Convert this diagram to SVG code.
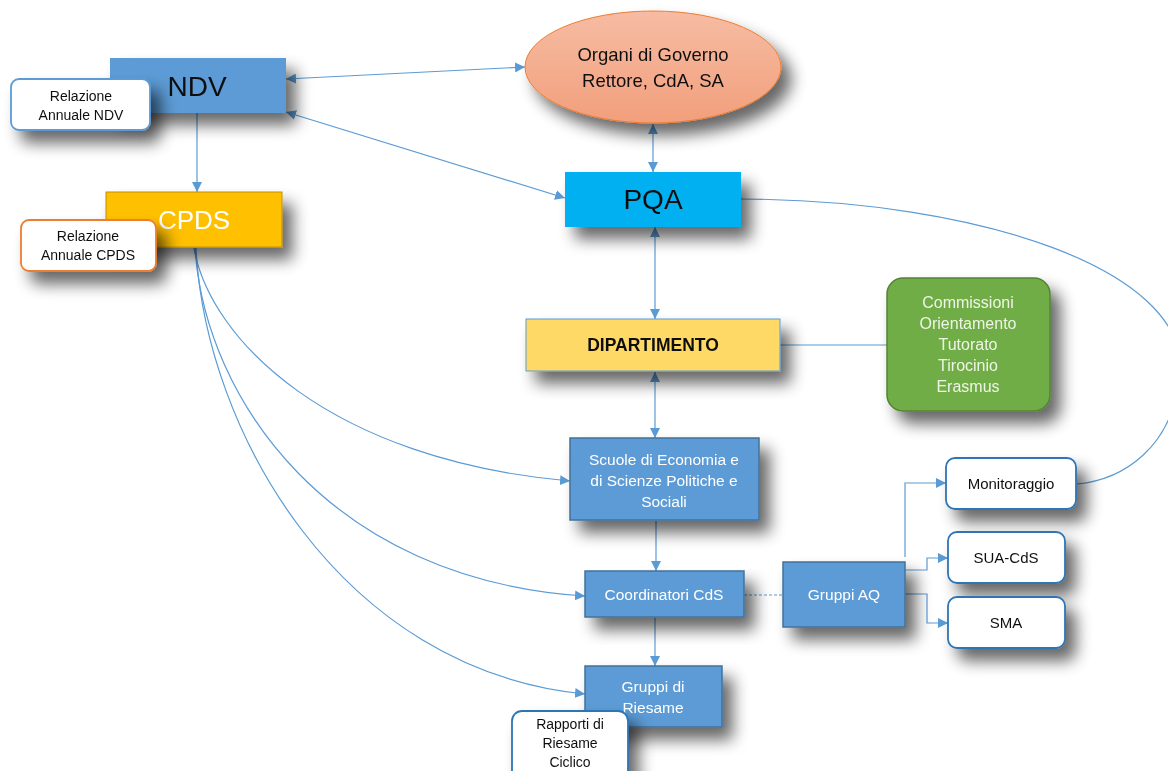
<svg xmlns="http://www.w3.org/2000/svg" width="1168" height="771" viewBox="0 0 1168 771">
<defs>
<filter id="sh" x="-30%" y="-30%" width="170%" height="190%">
<feGaussianBlur in="SourceAlpha" stdDeviation="8"/>
<feOffset dx="10" dy="12" result="b"/>
<feComponentTransfer><feFuncA type="linear" slope="0.6"/></feComponentTransfer>
<feMerge><feMergeNode/><feMergeNode in="SourceGraphic"/></feMerge>
</filter>
<linearGradient id="eg" x1="0" y1="0" x2="0" y2="1">
<stop offset="0" stop-color="#f6bca3"/>
<stop offset="1" stop-color="#f29f7c"/>
</linearGradient>
<marker id="ar" viewBox="0 0 10 10" refX="10" refY="5" markerWidth="10" markerHeight="10" markerUnits="userSpaceOnUse" orient="auto-start-reverse">
<path d="M0,0 L10,5 L0,10 z" fill="#5b9bd5"/>
</marker>
</defs>
<style>
text{font-family:"Liberation Sans",Arial,sans-serif;text-anchor:middle}
.c{fill:none;stroke:#5b9bd5;stroke-width:1.2}
.ca{fill:none;stroke:#5b9bd5;stroke-width:1.2;marker-end:url(#ar)}
.cb{fill:none;stroke:#5b9bd5;stroke-width:1.2;marker-end:url(#ar);marker-start:url(#ar)}
.blue{fill:#5b9bd5;stroke:#41719c;stroke-width:1.5}
.note{fill:#fff;stroke-width:1.8}
.w{fill:#fff}
.k{fill:#111}
</style>
<rect width="1168" height="771" fill="#fff"/>
<g id="connectors">
<path class="cb" d="M286,79 L525,67"/>
<path class="cb" d="M286,112 L565,198"/>
<path class="cb" d="M653,124 L653,172"/>
<path class="ca" d="M197,113 L197,192"/>
<path class="cb" d="M655,227 L655,319"/>
<path class="cb" d="M655,372 L655,438"/>
<path class="ca" d="M656,521 L656,571"/>
<path class="ca" d="M655,618 L655,666"/>
<path class="c" d="M780,345 L887,345"/>
<path class="c" d="M744,595 L783,595" stroke-dasharray="3,2"/>
<path class="c" d="M741,199 C980,200 1185,270 1180,370 C1175,450 1120,480 1077,484"/>
<path class="ca" d="M194,248 C210,340 330,460 570,481"/>
<path class="ca" d="M195,248 C205,400 330,580 585,596"/>
<path class="ca" d="M196,248 C205,430 340,670 585,694"/>
<path class="ca" d="M905,557 L905,483 L946,483"/>
<path class="ca" d="M905,570 L927,570 L927,558 L948,558"/>
<path class="ca" d="M905,594 L927,594 L927,623 L948,623"/>
</g>
<g id="ndv" filter="url(#sh)">
<rect x="110" y="58" width="176" height="55" fill="#5b9bd5"/>
<text x="197" y="96" font-size="28" class="k">NDV</text>
</g>
<g id="rel-ndv" filter="url(#sh)">
<rect x="11" y="79" width="139" height="51" rx="8" class="note" stroke="#5b9bd5"/>
<text x="81" y="101" font-size="14" class="k">Relazione</text>
<text x="81" y="120" font-size="14" class="k">Annuale NDV</text>
</g>
<g id="cpds" filter="url(#sh)">
<rect x="106" y="192" width="176" height="55" fill="#ffc000" stroke="#c09000" stroke-width="1"/>
<text x="194" y="229" font-size="26" class="w">CPDS</text>
</g>
<g id="rel-cpds" filter="url(#sh)">
<rect x="21" y="220" width="135" height="51" rx="8" class="note" stroke="#ed7d31"/>
<text x="88" y="241" font-size="14" class="k">Relazione</text>
<text x="88" y="260" font-size="14" class="k">Annuale CPDS</text>
</g>
<g id="organi" filter="url(#sh)">
<ellipse cx="653" cy="67" rx="128" ry="56" fill="url(#eg)" stroke="#ed7d31" stroke-width="1"/>
<text x="653" y="61" font-size="18.5" class="k">Organi di Governo</text>
<text x="653" y="87" font-size="18.5" class="k">Rettore, CdA, SA</text>
</g>
<g id="pqa" filter="url(#sh)">
<rect x="565" y="172" width="176" height="55" fill="#00b0f0"/>
<text x="653" y="209" font-size="28" class="k">PQA</text>
</g>
<g id="dipartimento" filter="url(#sh)">
<rect x="526" y="319" width="254" height="52" fill="#ffd966" stroke="#5b9bd5" stroke-width="1"/>
<text x="653" y="351" font-size="17.5" font-weight="bold" class="k">DIPARTIMENTO</text>
</g>
<g id="commissioni" filter="url(#sh)">
<rect x="887" y="278" width="163" height="133" rx="16" fill="#70ad47" stroke="#548235" stroke-width="1.5"/>
<text x="968" y="308" font-size="16" fill="#eef5e6">Commissioni</text>
<text x="968" y="329" font-size="16" fill="#eef5e6">Orientamento</text>
<text x="968" y="350" font-size="16" fill="#eef5e6">Tutorato</text>
<text x="968" y="371" font-size="16" fill="#eef5e6">Tirocinio</text>
<text x="968" y="392" font-size="16" fill="#eef5e6">Erasmus</text>
</g>
<g id="scuole" filter="url(#sh)">
<rect x="570" y="438" width="189" height="82" class="blue"/>
<text x="664" y="465" font-size="15.5" class="w">Scuole di Economia e</text>
<text x="664" y="486" font-size="15.5" class="w">di Scienze Politiche e</text>
<text x="664" y="507" font-size="15.5" class="w">Sociali</text>
</g>
<g id="coordinatori" filter="url(#sh)">
<rect x="585" y="571" width="159" height="46" class="blue"/>
<text x="664" y="600" font-size="15.5" class="w">Coordinatori CdS</text>
</g>
<g id="gruppi-aq" filter="url(#sh)">
<rect x="783" y="562" width="122" height="65" class="blue"/>
<text x="844" y="600" font-size="15.5" class="w">Gruppi AQ</text>
</g>
<g id="gruppi-riesame" filter="url(#sh)">
<rect x="585" y="666" width="137" height="61" class="blue"/>
<text x="653" y="692" font-size="15.5" class="w">Gruppi di</text>
<text x="653" y="713" font-size="15.5" class="w">Riesame</text>
</g>
<g id="rapporti" filter="url(#sh)">
<rect x="512" y="711" width="116" height="70" rx="10" class="note" stroke="#2e75b6"/>
<text x="570" y="729" font-size="14" class="k">Rapporti di</text>
<text x="570" y="748" font-size="14" class="k">Riesame</text>
<text x="570" y="767" font-size="14" class="k">Ciclico</text>
</g>
<g id="monitoraggio" filter="url(#sh)">
<rect x="946" y="458" width="130" height="51" rx="9" class="note" stroke="#2e75b6"/>
<text x="1011" y="489" font-size="15" class="k">Monitoraggio</text>
</g>
<g id="sua-cds" filter="url(#sh)">
<rect x="948" y="532" width="117" height="51" rx="9" class="note" stroke="#2e75b6"/>
<text x="1006" y="563" font-size="15" class="k">SUA-CdS</text>
</g>
<g id="sma" filter="url(#sh)">
<rect x="948" y="597" width="117" height="51" rx="9" class="note" stroke="#2e75b6"/>
<text x="1006" y="628" font-size="15" class="k">SMA</text>
</g>
</svg>
